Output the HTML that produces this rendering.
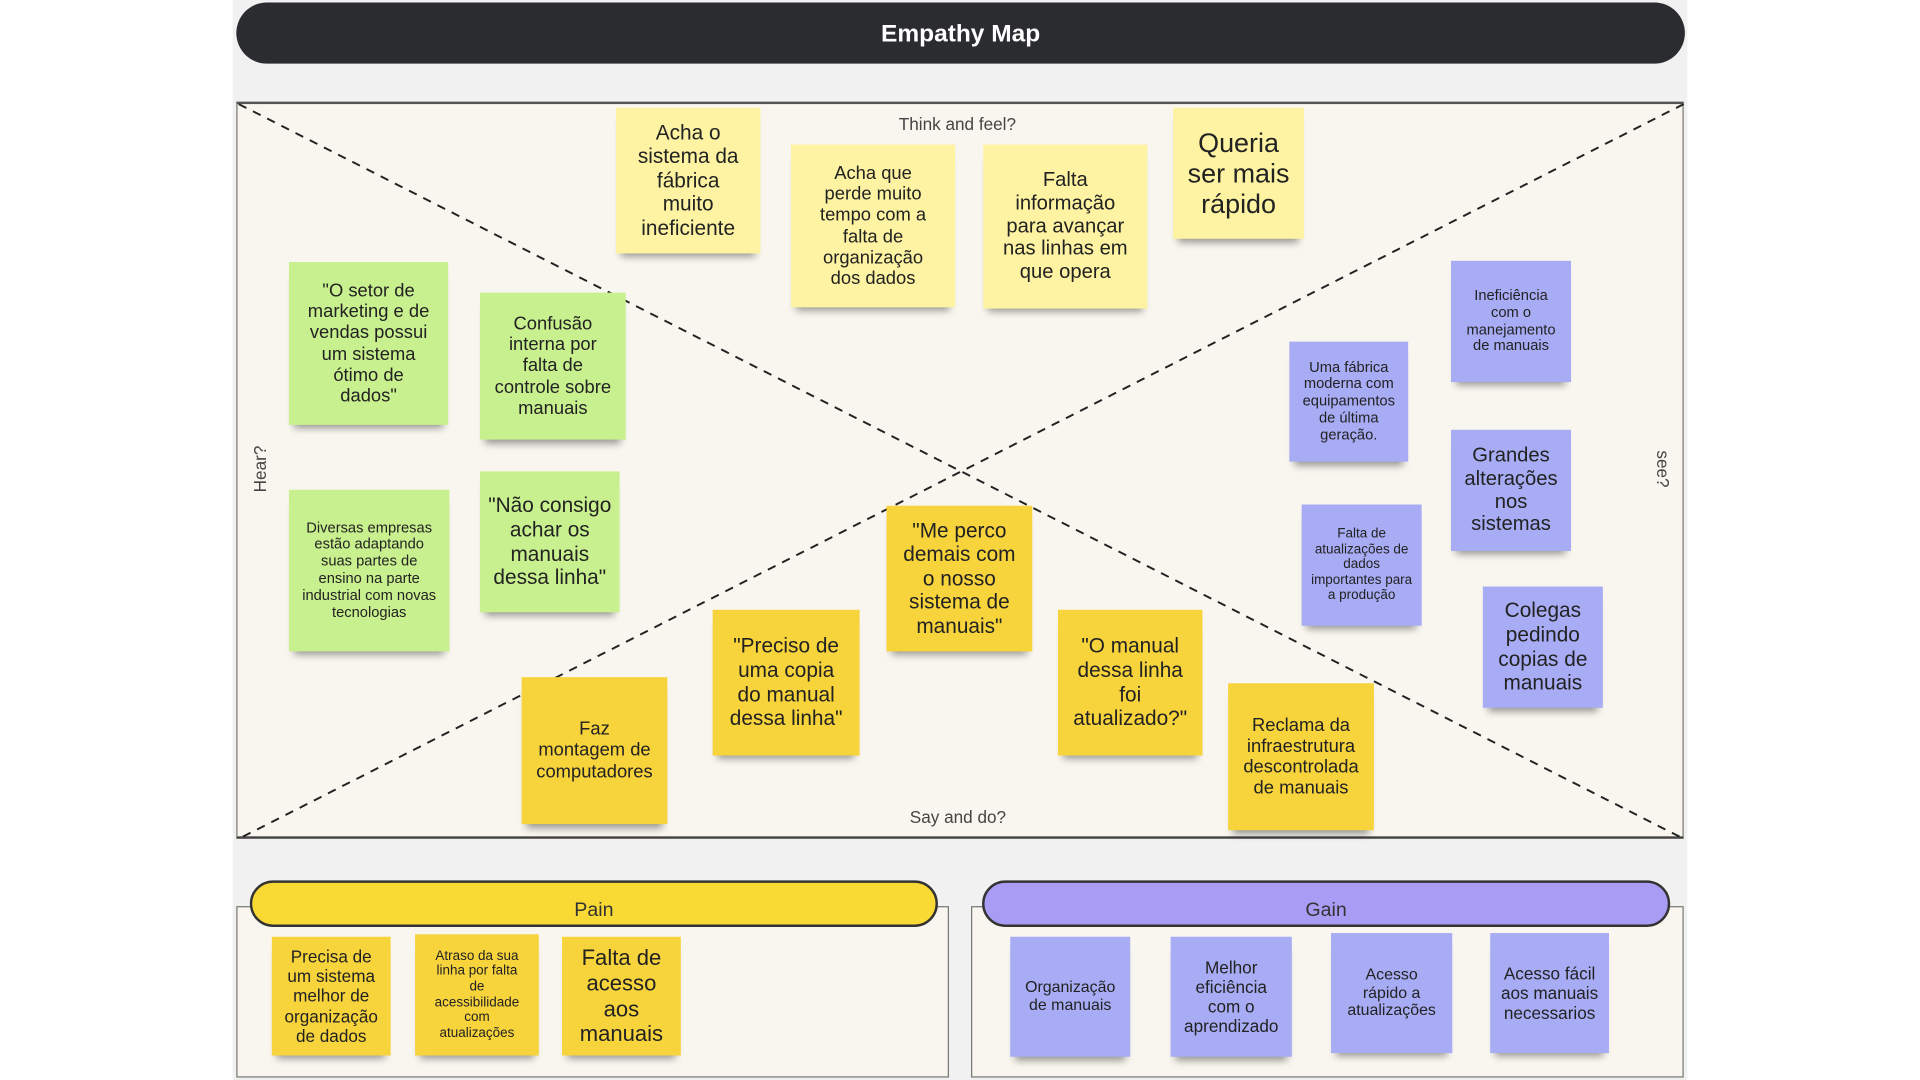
<!DOCTYPE html>
<html><head><meta charset="utf-8"><style>
html,body{margin:0;padding:0;width:1920px;height:1080px;overflow:hidden;background:#fff;}
#w{position:absolute;left:0;top:0;width:1568px;height:882px;transform:scale(1.22449);transform-origin:0 0;font-family:"Liberation Sans",Arial,sans-serif;}
.bg{position:absolute;left:190px;top:0;width:1188px;height:882px;background:#f1f1f1;}
.title{position:absolute;left:193px;top:2px;width:1183px;height:50px;background:#2b2c30;border-radius:25px;color:#fff;font-weight:bold;font-size:20px;text-align:center;line-height:52px;}
.map{position:absolute;left:193px;top:83px;width:1182px;height:602px;background:#f9f6ef;border-top:2px solid #555;border-left:1px solid #777;border-right:1px solid #777;border-bottom:2px solid #444;box-sizing:border-box;}
.s{position:absolute;display:flex;align-items:center;justify-content:center;text-align:center;color:#222;line-height:1.15;box-shadow:0 7px 6px -4px rgba(0,0,0,.4);box-sizing:border-box;padding:4px 12px;}
.py{background:#fdf3a2}.g{background:#c9f08e}.b{background:#a7acf5}.y{background:#f7d33c}
.lbl{position:absolute;color:#444;font-size:14px;}
.box{position:absolute;top:740px;height:140px;border:1px solid #777;box-sizing:border-box;background:#f9f6ef;}
.pill{position:absolute;top:719px;height:38px;border:2px solid #333;border-radius:19px;box-sizing:border-box;text-align:center;line-height:46px;font-size:16px;color:#333;}
</style></head><body><div id="w">
<div class="bg"></div>
<div class="title">Empathy Map</div>
<div class="map"></div>
<svg style="position:absolute;left:0;top:0" width="1568" height="882"><g stroke="#222" stroke-width="1.6" stroke-dasharray="7,6"><line x1="195" y1="85" x2="1375" y2="685"/><line x1="1375" y1="85" x2="195" y2="685"/></g></svg>
<div class="lbl" style="left:734px;top:93px">Think and feel?</div>
<div class="lbl" style="left:743px;top:659px">Say and do?</div>
<div class="lbl" style="left:193px;top:375px;transform:rotate(-90deg);transform-origin:center;">Hear?</div>
<div class="lbl" style="left:1343px;top:375px;transform:rotate(90deg);transform-origin:center;">see?</div>

<div class="s py" style="left:503px;top:88px;width:118px;height:119px;font-size:17px;padding:4px 14px">Acha o sistema da fábrica muito ineficiente</div>
<div class="s py" style="left:646px;top:118px;width:134px;height:133px;font-size:15px;padding:4px 20px">Acha que perde muito tempo com a falta de organização dos dados</div>
<div class="s py" style="left:803px;top:118px;width:134px;height:134px;font-size:16.5px;padding:4px 14px">Falta informação para avançar nas linhas em que opera</div>
<div class="s py" style="left:958px;top:88px;width:107px;height:107px;font-size:22px;padding:4px 8px">Queria ser mais rápido</div>

<div class="s g" style="left:236px;top:214px;width:130px;height:133px;font-size:15px;padding:4px 13px">"O setor de marketing e de vendas possui um sistema ótimo de dados"</div>
<div class="s g" style="left:392px;top:239px;width:119px;height:120px;font-size:15px;padding:4px 8px">Confusão interna por falta de controle sobre manuais</div>
<div class="s g" style="left:236px;top:400px;width:131px;height:132px;font-size:12px;padding:4px 10px">Diversas empresas estão adaptando suas partes de ensino na parte industrial com novas tecnologias</div>
<div class="s g" style="left:392px;top:385px;width:114px;height:115px;font-size:17px;padding:4px 6px">"Não consigo achar os manuais dessa linha"</div>

<div class="s b" style="left:1185px;top:213px;width:98px;height:99px;font-size:12px;padding:4px 8px">Ineficiência com o manejamento de manuais</div>
<div class="s b" style="left:1053px;top:279px;width:97px;height:98px;font-size:12px;padding:4px 6px">Uma fábrica moderna com equipamentos de última geração.</div>
<div class="s b" style="left:1185px;top:351px;width:98px;height:99px;font-size:16.5px;padding:4px 6px">Grandes alterações nos sistemas</div>
<div class="s b" style="left:1063px;top:412px;width:98px;height:99px;font-size:11px;padding:4px 6px">Falta de atualizações de dados importantes para a produção</div>
<div class="s b" style="left:1211px;top:479px;width:98px;height:99px;font-size:17px;padding:4px 8px">Colegas pedindo copias de manuais</div>

<div class="s y" style="left:724px;top:413px;width:119px;height:119px;font-size:17px;padding:4px 10px">"Me perco demais com o nosso sistema de manuais"</div>
<div class="s y" style="left:582px;top:498px;width:120px;height:119px;font-size:17px;padding:4px 10px">"Preciso de uma copia do manual dessa linha"</div>
<div class="s y" style="left:864px;top:498px;width:118px;height:119px;font-size:17px;padding:4px 12px">"O manual dessa linha foi atualizado?"</div>
<div class="s y" style="left:426px;top:553px;width:119px;height:120px;font-size:15px;padding:4px 10px">Faz montagem de computadores</div>
<div class="s y" style="left:1003px;top:558px;width:119px;height:120px;font-size:15px;padding:4px 8px">Reclama da infraestrutura descontrolada de manuais</div>

<div class="box" style="left:193px;width:582px"></div>
<div class="box" style="left:793px;width:582px"></div>
<div class="pill" style="left:204px;width:562px;background:#f9d934">Pain</div>
<div class="pill" style="left:802px;width:562px;background:#a99cf5">Gain</div>

<div class="s y" style="left:222px;top:765px;width:97px;height:97px;font-size:14px;padding:4px 6px">Precisa de um sistema melhor de organização de dados</div>
<div class="s y" style="left:339px;top:763px;width:101px;height:99px;font-size:11px;padding:4px 12px">Atraso da sua linha por falta de acessibilidade com atualizações</div>
<div class="s y" style="left:459px;top:765px;width:97px;height:97px;font-size:18px;padding:4px 8px">Falta de acesso aos manuais</div>

<div class="s b" style="left:825px;top:765px;width:98px;height:98px;font-size:13px;padding:4px 8px">Organização de manuais</div>
<div class="s b" style="left:956px;top:765px;width:99px;height:98px;font-size:14px;padding:4px 12px">Melhor eficiência com o aprendizado</div>
<div class="s b" style="left:1087px;top:762px;width:99px;height:98px;font-size:13px;padding:4px 14px">Acesso rápido a atualizações</div>
<div class="s b" style="left:1217px;top:762px;width:97px;height:98px;font-size:14px;padding:4px 8px">Acesso fácil aos manuais necessarios</div>
</div></body></html>
